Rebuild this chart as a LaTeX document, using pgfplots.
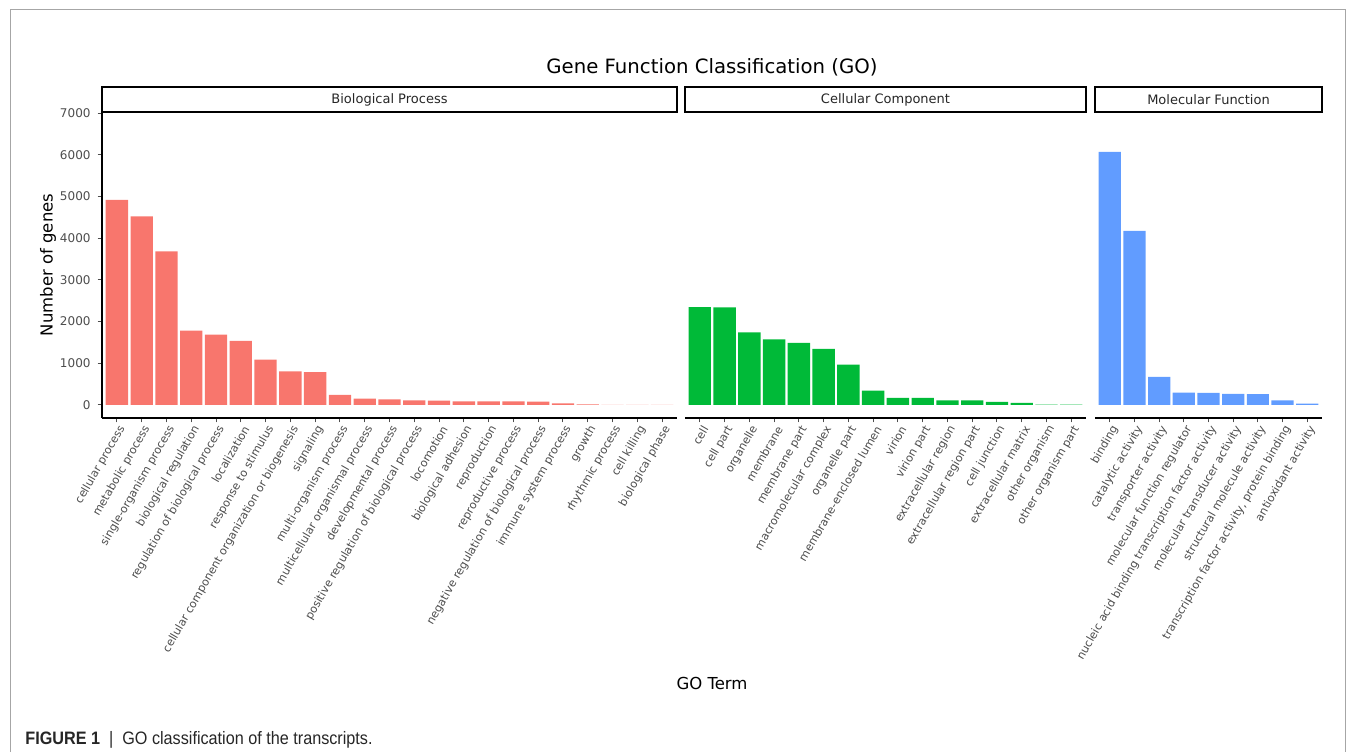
\documentclass[border=0pt]{standalone}
\usepackage{pgfplots}
\pgfplotsset{compat=1.18}
\usepackage{fontspec}
\setmainfont{DejaVu Sans}
\newfontfamily\capfont[FakeStretch=0.9]{Liberation Sans}
\definecolor{bpcol}{HTML}{F8766D}
\definecolor{cccol}{HTML}{00BA38}
\definecolor{mfcol}{HTML}{619CFF}
\definecolor{tickgray}{HTML}{4D4D4D}
\definecolor{framegray}{HTML}{A6A6A6}

\pgfplotstableread{
x y
0 4916
1 4520
2 3680
3 1782
4 1685
5 1540
6 1090
7 806
8 790
9 242
10 153
11 137
12 113
13 105
14 89
15 89
16 89
17 80
18 40
19 16
20 3
21 2
22 1
}\bpdata

\pgfplotstableread{
x y
0 2347
1 2342
2 1742
3 1573
4 1492
5 1347
6 968
7 347
8 169
9 169
10 113
11 113
12 73
13 48
14 8
15 8
}\ccdata

\pgfplotstableread{
x y
0 6070
1 4175
2 677
3 298
4 290
5 266
6 258
7 113
8 32
}\mfdata

\pgfplotsset{
  gopanel/.style={
    scale only axis,
    anchor=south west,
    height=153pt,
    ymin=-312, ymax=7024,
    xmin=-0.6,
    axis x line*=bottom,
    axis line style={-, black, line width=0.6pt},
    tick align=outside,
    major tick length=2.2pt,
    every tick/.style={tickgray, line width=0.5pt},
    xtick=data,
    x tick label style={rotate=60, anchor=east, text=tickgray,
      font=\fontsize{5.6}{6}\selectfont, inner sep=1pt, yshift=-3.5pt, xshift=0.6pt},
    y tick label style={text=tickgray, font=\fontsize{6}{7}\selectfont},
    /pgf/number format/assume math mode=true,
    /pgf/number format/1000 sep={},
    clip=false,
    ybar, bar width=0.9,
  }
}

\begin{document}
\begin{tikzpicture}[x=0.5pt,y=0.5pt]
\useasboundingbox (0,0) rectangle (1355,752);
\draw[framegray, line width=0.5pt] (10,0) -- (10,742) -- (1345,742) -- (1345,0);

% Biological Process
\begin{axis}[gopanel, at={(51pt,167pt)}, width=287.5pt, xmax=22.6,
  axis y line*=left,
  ytick={0,1000,...,7000},
  xticklabels={cellular process, metabolic process, single-organism process,
    biological regulation, regulation of biological process, localization,
    response to stimulus, cellular component organization or biogenesis,
    signaling, multi-organism process, multicellular organismal process,
    developmental process, positive regulation of biological process,
    locomotion, biological adhesion, reproduction, reproductive process,
    negative regulation of biological process, immune system process,
    growth, rhythmic process, cell killing, biological phase}]
\addplot[fill=bpcol, draw=none] table[x=x, y=y] {\bpdata};
\end{axis}

% Cellular Component
\begin{axis}[gopanel, at={(342.5pt,167pt)}, width=200.5pt, xmax=15.6,
  axis y line=none, ytick=\empty,
  xticklabels={cell, cell part, organelle, membrane, membrane part,
    macromolecular complex, organelle part, membrane-enclosed lumen,
    virion, virion part, extracellular region, extracellular region part,
    cell junction, extracellular matrix, other organism, other organism part}]
\addplot[fill=cccol, draw=none] table[x=x, y=y] {\ccdata};
\end{axis}

% Molecular Function
\begin{axis}[gopanel, at={(547.5pt,167pt)}, width=113.5pt, xmax=8.6,
  axis y line=none, ytick=\empty,
  xticklabels={binding, catalytic activity, transporter activity,
    molecular function regulator,
    nucleic acid binding transcription factor activity,
    molecular transducer activity, structural molecule activity,
    {transcription factor activity, protein binding}, antioxidant activity}]
\addplot[fill=mfcol, draw=none] table[x=x, y=y] {\mfdata};
\end{axis}

% strips
\draw[black, line width=0.75pt] (102,640) rectangle (677,665);
\draw[black, line width=0.75pt] (685,640) rectangle (1086,665);
\draw[black, line width=0.75pt] (1095,640) rectangle (1322,665);
\node[font=\fontsize{6.5}{8}\selectfont, text=black!85] at (389.5,652.5) {Biological Process};
\node[font=\fontsize{6.5}{8}\selectfont, text=black!85] at (885.5,652.5) {Cellular Component};
\node[font=\fontsize{6.5}{8}\selectfont, text=black!85] at (1208.5,652.5) {Molecular Function};

% titles
\node[font=\fontsize{9.85}{12}\selectfont] at (712,685) {Gene Function Classification (GO)};
\node[font=\fontsize{8.25}{10}\selectfont, rotate=90] at (48,487) {Number of genes};
\node[font=\fontsize{8.25}{10}\selectfont] at (712,69) {GO Term};

% caption
\node[anchor=base west, inner sep=0pt, font=\capfont\fontsize{9}{11}\selectfont, text=black!85] at (25,8)
  {\textbf{FIGURE 1}\enspace|\enspace GO classification of the transcripts.};
\end{tikzpicture}
\end{document}
